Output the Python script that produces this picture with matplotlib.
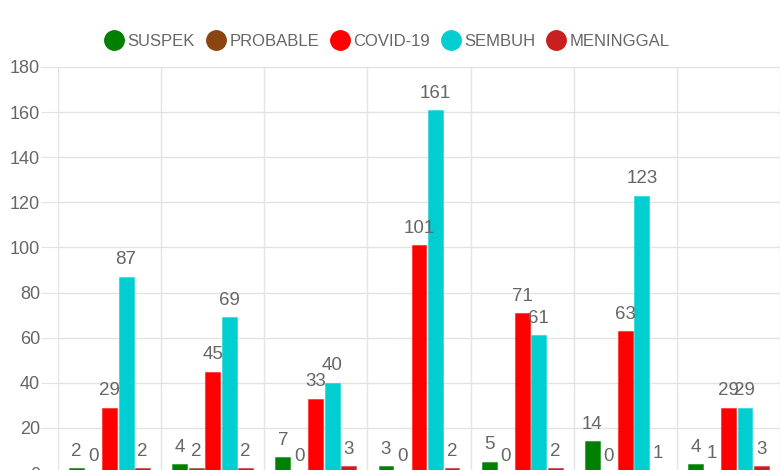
import numpy as np
import matplotlib.pyplot as plt
from matplotlib.lines import Line2D
from matplotlib.colors import to_rgba

plt.rcParams['font.family'] = ['Liberation Sans', 'DejaVu Sans']

# Data (7 groups, category labels are cut off)
series = ['SUSPEK', 'PROBABLE', 'COVID-19', 'SEMBUH', 'MENINGGAL']
colors = ['#008000', '#8B4513', '#FF0000', '#00CED1', '#C91F1F']
suspek = [2, 4, 7, 3, 5, 14, 4]
probable = [0, 2, 0, 0, 0, 0, 1]
covid = [29, 45, 33, 101, 71, 63, 29]
sembuh = [87, 69, 40, 161, 61, 123, 29]
meninggal = [2, 2, 3, 2, 2, 1, 3]
values = [suspek, probable, covid, sembuh, meninggal]

n_groups = len(suspek)
x = np.arange(n_groups)
slot = 0.8 / len(series)
bar_w = slot * 0.9

fig = plt.figure(figsize=(7.8, 4.7), dpi=100)
ax = fig.add_axes([58 / 780, -3 / 470, 722 / 780, 406 / 470])

grid_c = '#e3e3e3'
text_c = '#666666'

for i, (name, col, vals) in enumerate(zip(series, colors, values)):
    pos = x - 0.4 + slot * (i + 0.5)
    ec = to_rgba(col, 0.45)
    ax.bar(pos, vals, width=bar_w, color=col, edgecolor=ec, linewidth=0.8, zorder=3)
    for px, v in zip(pos, vals):
        ax.annotate(str(v), (px, v), xytext=(0, 6), textcoords='offset points',
                    ha='center', va='bottom', fontsize=13.5, color=text_c, zorder=4)

ax.set_xlim(-0.5, n_groups - 0.5)
ax.set_ylim(0, 180)
ax.set_yticks(np.arange(0, 181, 20))
ax.set_xticks(np.arange(-0.5, n_groups, 1.0))
ax.set_xticklabels([])
ax.grid(True, color=grid_c, linewidth=1, zorder=0)
ax.tick_params(axis='y', colors=grid_c, labelcolor=text_c, labelsize=13, length=12, pad=1)
ax.tick_params(axis='x', colors=grid_c, length=8)
for s in ax.spines.values():
    s.set_visible(False)

handles = [Line2D([], [], marker='o', linestyle='none', markersize=14,
                  markerfacecolor=c, markeredgecolor=c) for c in colors]
fig.legend(handles, series, loc='center', bbox_to_anchor=(0.497, 0.911), ncol=5,
           frameon=False, fontsize=12, labelcolor=text_c, handlelength=1.0,
           handletextpad=0.3, columnspacing=0.75)

fig.savefig('out.png', dpi=100)
